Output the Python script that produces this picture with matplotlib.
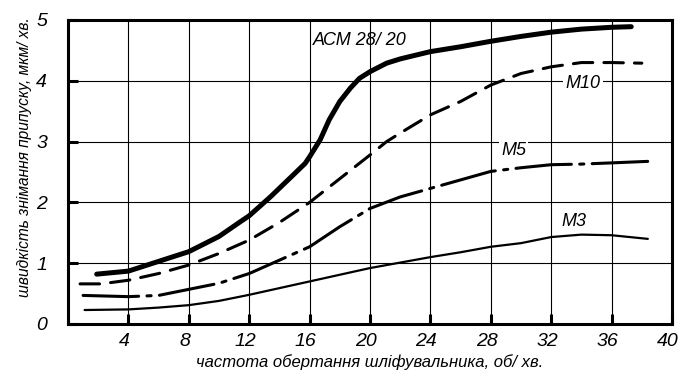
import matplotlib
matplotlib.use("Agg")
import matplotlib.pyplot as plt
import matplotlib.transforms as mtransforms

plt.rcParams['font.family'] = ['Liberation Sans', 'DejaVu Sans']
plt.rcParams['lines.scale_dashes'] = False

# Data
acm_x = [1.9, 4, 6, 8, 10, 11.4, 12, 13.4, 14.7, 15.7, 16, 16.7, 17.3, 18, 18.7, 19.3, 20, 21.1, 22, 24, 26, 28, 30, 32, 34, 36, 37.3]
acm_y = [0.82, 0.87, 1.03, 1.19, 1.44, 1.68, 1.78, 2.09, 2.40, 2.64, 2.75, 3.03, 3.36, 3.66, 3.88, 4.04, 4.15, 4.29, 4.36, 4.48, 4.56, 4.65, 4.73, 4.80, 4.85, 4.88, 4.89]

m10_x = [0.8, 2.2, 4, 6, 8, 10, 12, 14, 16, 18, 20, 21.1, 22, 24, 26, 28, 30, 32, 34, 36, 38]
m10_y = [0.66, 0.66, 0.72, 0.83, 0.97, 1.16, 1.38, 1.67, 2.00, 2.39, 2.78, 3.00, 3.14, 3.44, 3.66, 3.93, 4.12, 4.23, 4.30, 4.30, 4.29]

m5_x = [1.0, 4, 6, 8, 10, 12, 14, 16, 18, 20, 22, 24, 26, 28, 30, 32, 34, 36, 38.9]
m5_y = [0.47, 0.45, 0.47, 0.57, 0.67, 0.83, 1.05, 1.27, 1.60, 1.90, 2.09, 2.23, 2.37, 2.51, 2.57, 2.62, 2.63, 2.65, 2.68]

m3_x = [1.1, 4, 6, 8, 10, 12, 14, 16, 18, 20, 22, 24, 26, 28, 30, 32, 34, 36, 38.4]
m3_y = [0.23, 0.24, 0.27, 0.31, 0.38, 0.48, 0.59, 0.70, 0.81, 0.92, 1.01, 1.10, 1.18, 1.27, 1.33, 1.43, 1.47, 1.46, 1.40]

x_ticks = [4, 8, 12, 16, 20, 24, 28, 32, 36, 40]
y_ticks = [0, 1, 2, 3, 4, 5]

curve_labels = ["АСМ 28/ 20", "М10", "М5", "М3"]
label_x = [19.3, 34.1, 29.5, 33.5]
label_y = [4.66, 3.96, 2.86, 1.68]

xlabel = "частота обертання шліфувальника, об/ хв."
ylabel = "швидкість знімання припуску, мкм/ хв."

fig = plt.figure(figsize=(6.84, 3.71), dpi=100)
ax = fig.add_axes([68/684, 47/371, (672-68)/684, (324-20)/371])
ax.set_xlim(0, 40)
ax.set_ylim(0, 5)

# grid
for xv in x_ticks[:-1]:
    ax.axvline(xv, color='black', lw=0.8, zorder=1)
for yv in y_ticks[1:-1]:
    ax.axhline(yv, color='black', lw=0.8, zorder=1)

ax.plot(acm_x, acm_y, color='black', lw=3.6, solid_capstyle='round', solid_joinstyle='round', zorder=3)
ax.plot(m10_x, m10_y, color='black', lw=2.2, linestyle=(0, (14, 8)), dash_capstyle='round', zorder=3)
ax.plot(m5_x, m5_y, color='black', lw=2.2, linestyle=(0, (40, 6, 3, 6)), dash_capstyle='round', zorder=3)
ax.plot(m3_x, m3_y, color='black', lw=1.6, solid_capstyle='round', zorder=3)

txt_kw = dict(style='italic', fontsize=13, ha='center', va='center', zorder=4)
ax.text(label_x[0], label_y[0], curve_labels[0], **txt_kw)
ax.text(label_x[1], label_y[1], curve_labels[1],
        bbox=dict(facecolor='white', edgecolor='none', pad=1.5), **txt_kw)
ax.text(label_x[2], label_y[2], curve_labels[2],
        bbox=dict(facecolor='white', edgecolor='none', pad=1.5), **txt_kw)
ax.text(label_x[3], label_y[3], curve_labels[3], **txt_kw)

for s in ax.spines.values():
    s.set_linewidth(2.2)
    s.set_zorder(5)

ax.set_xticks(x_ticks)
ax.set_xticklabels([str(v) for v in x_ticks])
ax.set_yticks(y_ticks)
ax.set_yticklabels([str(v) for v in y_ticks])
ax.tick_params(axis='both', direction='in', length=7, width=2.2, labelsize=14)
ax.tick_params(axis='x', pad=6.5)
ax.tick_params(axis='y', pad=15)
shift = mtransforms.ScaledTranslation(-4/100, 0, fig.dpi_scale_trans)
for lab in ax.get_xticklabels():
    lab.set_fontstyle('italic')
    lab.set_transform(lab.get_transform() + shift)
for lab in ax.get_yticklabels():
    lab.set_fontstyle('italic')

ax.set_xlabel(xlabel, style='italic', fontsize=12, labelpad=3)
ax.set_ylabel(ylabel, style='italic', fontsize=11.2)
ax.yaxis.set_label_coords(-0.06, 0.55)

fig.savefig("out.png", dpi=100)
